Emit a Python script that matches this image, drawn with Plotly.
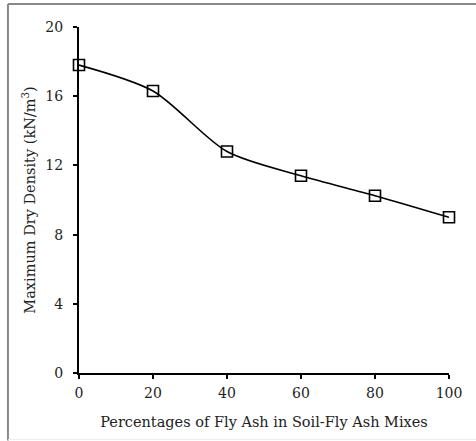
import plotly.graph_objects as go

# Fly ash content (%) and maximum dry density (kN/m3)
fly_ash_pct = [0, 20, 40, 60, 80, 100]
max_dry_density = [17.8, 16.3, 12.8, 11.4, 10.25, 9.0]

x_ticks = [0, 20, 40, 60, 80, 100]
y_ticks = [0, 4, 8, 12, 16, 20]

FONT = "DejaVu Serif"

fig = go.Figure()
fig.add_trace(go.Scatter(
    x=fly_ash_pct, y=max_dry_density,
    mode="lines+markers",
    line=dict(color="black", width=1.6, shape="spline", smoothing=0.8),
    marker=dict(symbol="square-open", size=11, color="black", line=dict(width=1.6)),
    cliponaxis=False,
    showlegend=False,
))

axis_common = dict(
    showgrid=False, zeroline=False,
    showline=True, linecolor="black", linewidth=2,
    ticks="outside", ticklen=4, tickwidth=2, tickcolor="black",
    tickfont=dict(family=FONT, size=14, color="#222"),
    title_font=dict(family=FONT, size=14.5, color="#222"),
)

fig.update_xaxes(range=[0, 100], tickvals=x_ticks,
                 title_text="Percentages of Fly Ash in Soil-Fly Ash Mixes",
                 title_standoff=17, ticklabelstandoff=2, **axis_common)
fig.update_yaxes(range=[0, 20], tickvals=y_ticks,
                 title_text="Maximum Dry Density (kN/m<sup>3</sup>)",
                 title_standoff=6, ticklabelstandoff=7, **axis_common)

# frame around the figure
fig.add_shape(type="line", xref="paper", yref="paper",
              x0=-0.192, x1=1.08, y0=1.0665, y1=1.0665,
              line=dict(color="#888", width=2))
fig.add_shape(type="line", xref="paper", yref="paper",
              x0=-0.192, x1=-0.192, y0=1.0665, y1=-0.195,
              line=dict(color="#888", width=2))
fig.add_shape(type="line", xref="paper", yref="paper",
              x0=-0.192, x1=1.08, y0=-0.1925, y1=-0.1925,
              line=dict(color="#eee", width=1))

fig.update_layout(
    width=476, height=441,
    margin=dict(l=79, r=27, t=27, b=68),
    paper_bgcolor="white", plot_bgcolor="white",
)

fig.write_html("out.html")
